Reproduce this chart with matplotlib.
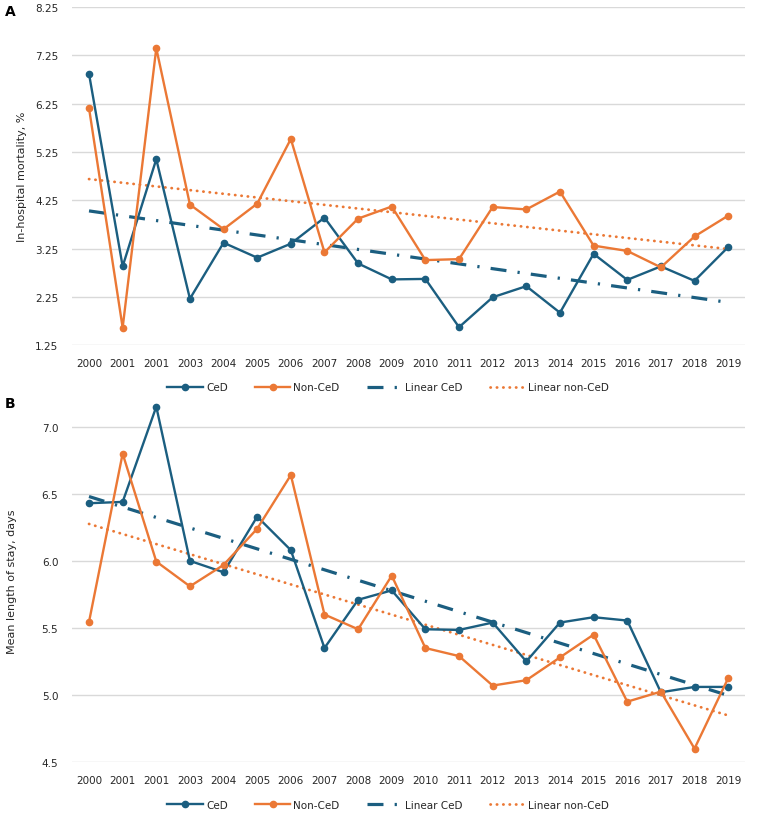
import numpy as np
import matplotlib
matplotlib.use("Agg")
from matplotlib import pyplot as plt

# Donnees
annees = ["2000", "2001", "2001", "2003", "2004", "2005", "2006", "2007", "2008", "2009",
          "2010", "2011", "2012", "2013", "2014", "2015", "2016", "2017", "2018", "2019"]

mortalite_ced = [6.87, 2.88, 5.10, 2.21, 3.37, 3.06, 3.35, 3.89, 2.94, 2.61,
                 2.62, 1.62, 2.24, 2.47, 1.92, 3.14, 2.60, 2.88, 2.58, 3.28]
mortalite_non_ced = [6.16, 1.61, 7.40, 4.16, 3.65, 4.18, 5.52, 3.17, 3.87, 4.12,
                     3.01, 3.03, 4.11, 4.06, 4.43, 3.31, 3.20, 2.86, 3.50, 3.93]

sejour_ced = [6.43, 6.44, 7.15, 6.00, 5.915, 6.33, 6.08, 5.35, 5.71, 5.78,
              5.49, 5.485, 5.54, 5.25, 5.54, 5.58, 5.555, 5.02, 5.06, 5.06]
sejour_non_ced = [5.545, 6.80, 5.995, 5.81, 5.97, 6.24, 6.64, 5.60, 5.49, 5.89,
                  5.35, 5.29, 5.07, 5.11, 5.28, 5.45, 4.95, 5.025, 4.60, 5.125]

ticks_a = [1.25, 2.25, 3.25, 4.25, 5.25, 6.25, 7.25, 8.25]
ticks_b = [4.5, 5.0, 5.5, 6.0, 6.5, 7.0]

BLEU = "#1b5e80"
ORANGE = "#eb7835"
GRIS = "#d9d9d9"
TEXTE = "#262626"

plt.rcParams['font.family'] = ['DejaVu Sans']
plt.rcParams['font.size'] = 7.5

fig = plt.figure(figsize=(7.68, 8.2), dpi=100)
axA = fig.add_axes([0.094, 0.578, 0.876, 0.412])
axB = fig.add_axes([0.094, 0.0695, 0.876, 0.4415])


def tendance(y):
  x = np.arange(len(y))
  a, b = np.polyfit(x, y, 1)
  return x, a * x + b


def panneau(ax, ced, non_ced, ticks, ylim, ylabel, fmt, lpad):
  x = np.arange(len(annees))
  ax.plot(x, ced, color=BLEU, lw=1.7, marker="o", ms=4.5, label="CeD", zorder=3)
  ax.plot(x, non_ced, color=ORANGE, lw=1.7, marker="o", ms=4.5, label="Non-CeD", zorder=3)
  xt, yt = tendance(ced)
  ax.plot(xt, yt, color=BLEU, lw=2.3, dashes=(5, 3.5, 0.7, 3.5), label="Linear CeD", zorder=2)
  xt, yt = tendance(non_ced)
  ax.plot(xt, yt, color=ORANGE, lw=2.0, linestyle=(0, (0.1, 2.2)), dash_capstyle="round",
          label="Linear non-CeD", zorder=2)
  ax.set_xlim(-0.5, len(annees) - 0.5)
  ax.set_ylim(*ylim)
  ax.set_yticks(ticks)
  ax.set_yticklabels([fmt % t for t in ticks])
  ax.set_xticks(x)
  ax.set_xticklabels(annees)
  ax.grid(axis="y", color=GRIS, lw=1.0)
  ax.set_axisbelow(True)
  for s in ax.spines.values():
    s.set_visible(False)
  ax.tick_params(length=0, colors=TEXTE, labelsize=7.5)
  ax.tick_params(axis="y", pad=10)
  ax.tick_params(axis="x", pad=9)
  ax.set_ylabel(ylabel, fontsize=8, color=TEXTE, labelpad=lpad)
  return ax


panneau(axA, mortalite_ced, mortalite_non_ced, ticks_a, (1.25, 8.25),
        "In-hospital mortality, %", "%.2f", 6)
panneau(axB, sejour_ced, sejour_non_ced, ticks_b, (4.5, 7.2),
        "Mean length of stay, days", "%.1f", 18)

for ax, yb in [(axA, -0.125), (axB, -0.118)]:
  leg = ax.legend(loc="center", bbox_to_anchor=(0.47, yb), ncol=4, frameon=False,
                  handlelength=3.4, columnspacing=2.6, handletextpad=0.3, fontsize=7.5)
  for t in leg.get_texts():
    t.set_color(TEXTE)

fig.text(0.006, 0.985, "A", fontsize=10, fontweight="bold", va="center")
fig.text(0.006, 0.507, "B", fontsize=10, fontweight="bold", va="center")

fig.savefig("out.png", dpi=100, facecolor="white")
